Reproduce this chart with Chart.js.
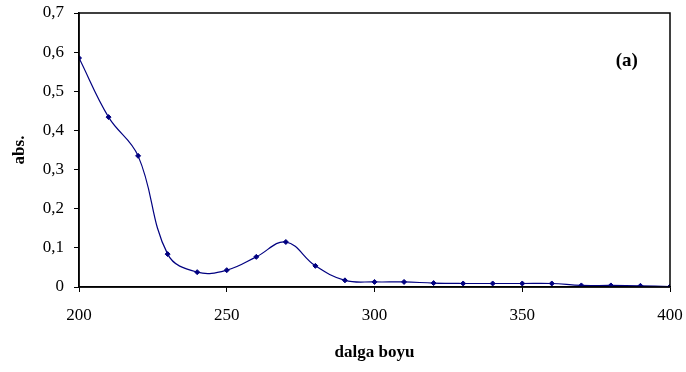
<!DOCTYPE html>
<html>
<head>
<meta charset="utf-8">
<script src="https://cdn.jsdelivr.net/npm/chart.js@4/dist/chart.umd.min.js"></script>
<style>
  html, body { margin: 0; padding: 0; background: #fff; }
  #wrap { width: 686px; height: 372px; }
</style>
</head>
<body>
<div id="wrap"><canvas id="c"></canvas></div>
<script>
// wavelength (nm) and absorbance
const wavelengths = [200, 210, 220, 230, 240, 250, 260, 270, 280, 290, 300,
  310, 320, 330, 340, 350, 360, 370, 380, 390, 400];
const absValues = [0.585, 0.434, 0.335, 0.084, 0.038, 0.043, 0.077, 0.115, 0.054, 0.017, 0.013,
  0.013, 0.010, 0.009, 0.009, 0.009, 0.009, 0.004, 0.004, 0.003, 0.001];
const panelLabel = '(a)';

const serif = '"Liberation Serif", "Times New Roman", serif';
const lineColor = '#000080';

// box round the plot area plus the panel letter
const frame = {
  id: 'frame',
  afterDraw(chart) {
    const { ctx, chartArea: a } = chart;
    ctx.save();
    ctx.strokeStyle = '#000';
    ctx.lineWidth = 1.5;
    ctx.strokeRect(a.left, a.top, a.right - a.left, a.bottom - a.top);
    ctx.fillStyle = '#000';
    ctx.font = 'bold 19px ' + serif;
    ctx.textAlign = 'center';
    ctx.textBaseline = 'middle';
    ctx.fillText(panelLabel, a.left + (a.right - a.left) * 0.927, a.top + 48);
    ctx.restore();
  }
};

new Chart(document.getElementById('c'), {
  type: 'line',
  data: {
    datasets: [{
      data: wavelengths.map((x, i) => ({ x, y: absValues[i] })),
      borderColor: lineColor,
      backgroundColor: lineColor,
      borderWidth: 1.2,
      tension: 0.4,
      pointStyle: 'rectRot',
      pointRadius: 2.5,
      pointBorderWidth: 1,
      fill: false
    }]
  },
  options: {
    responsive: true,
    maintainAspectRatio: false,
    animation: false,
    layout: { padding: { top: 13, right: 16, left: 0, bottom: 0 } },
    plugins: { legend: { display: false }, tooltip: { enabled: false } },
    scales: {
      x: {
        type: 'linear',
        min: 200,
        max: 400,
        afterFit(s) { s.height = 85; s.paddingLeft = 0; s.paddingRight = 0; },
        ticks: {
          stepSize: 50,
          color: '#000',
          font: { family: serif, size: 17 },
          padding: 13
        },
        grid: { drawOnChartArea: false, drawTicks: true, tickLength: 5, color: '#000' },
        border: { display: true, color: '#000', width: 1.5 },
        title: {
          display: true,
          text: 'dalga boyu',
          color: '#000',
          font: { family: serif, size: 17, weight: 'bold' },
          padding: { top: 0, bottom: 9 }
        }
      },
      y: {
        min: 0,
        max: 0.7,
        afterFit(s) { s.width = 79; s.paddingTop = 0; s.paddingBottom = 0; },
        ticks: {
          stepSize: 0.1,
          color: '#000',
          font: { family: serif, size: 17 },
          padding: 10,
          callback: v => v === 0 ? '0' : v.toFixed(1).replace('.', ',')
        },
        grid: { drawOnChartArea: false, drawTicks: true, tickLength: 5, color: '#000' },
        border: { display: true, color: '#000', width: 1.5 },
        title: {
          display: true,
          text: 'abs.',
          color: '#000',
          font: { family: serif, size: 17, weight: 'bold' },
          padding: { top: 9, bottom: 0 }
        }
      }
    }
  },
  plugins: [frame]
});
</script>
</body>
</html>
